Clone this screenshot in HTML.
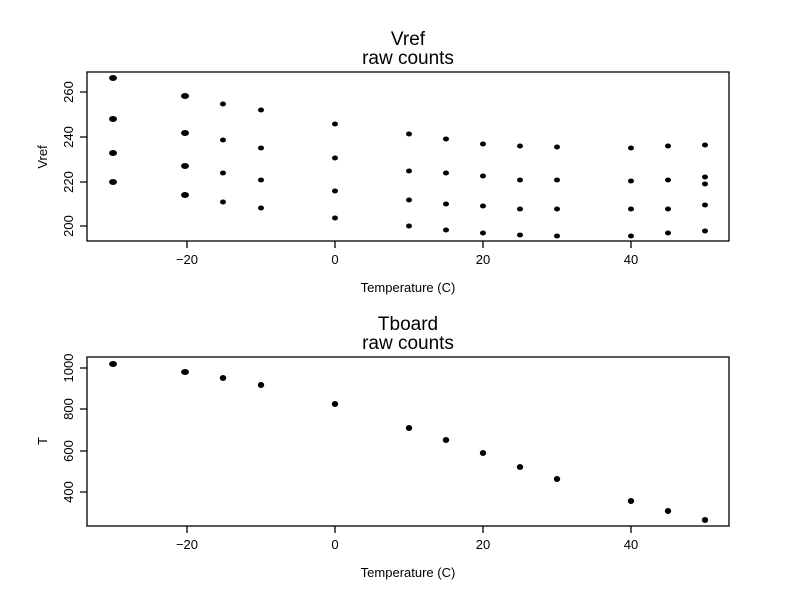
<!DOCTYPE html>
<html><head><style>body{margin:0;background:#fff}svg{display:block}text{font-family:"Liberation Sans",sans-serif;fill:#000}</style></head><body>
<svg width="792" height="612" xmlns="http://www.w3.org/2000/svg">
<g stroke="#000" stroke-width="1.3" fill="none">
<rect x="87" y="72" width="642" height="169"/>
<rect x="87" y="357" width="642" height="169"/>
<path d="M80 92H87M80 137H87M80 182H87M80 226H87M187 241V248M335 241V248M483 241V248M631 241V248"/>
<path d="M80 368H87M80 409H87M80 451H87M80 492H87M187 526V533M335 526V533M483 526V533M631 526V533"/>
</g>
<g font-size="13" text-anchor="middle">
<text x="187" y="264">−20</text><text x="335" y="264">0</text><text x="483" y="264">20</text><text x="631" y="264">40</text>
<text x="187" y="549">−20</text><text x="335" y="549">0</text><text x="483" y="549">20</text><text x="631" y="549">40</text>
<text x="408" y="292">Temperature (C)</text><text x="408" y="577">Temperature (C)</text>
<text transform="translate(73,92) rotate(-90)">260</text><text transform="translate(73,137) rotate(-90)">240</text>
<text transform="translate(73,182) rotate(-90)">220</text><text transform="translate(73,226) rotate(-90)">200</text>
<text transform="translate(47,157) rotate(-90)">Vref</text>
<text transform="translate(73,368) rotate(-90)">1000</text><text transform="translate(73,409) rotate(-90)">800</text>
<text transform="translate(73,451) rotate(-90)">600</text><text transform="translate(73,492) rotate(-90)">400</text>
<text transform="translate(47,441) rotate(-90)">T</text>
</g>
<g font-size="19" text-anchor="middle">
<text x="408" y="45">Vref</text><text x="408" y="64">raw counts</text>
<text x="408" y="330">Tboard</text><text x="408" y="349">raw counts</text>
</g>
<g fill="#000" id="pts"></g>
<script>
(function(){
var g=document.getElementById('pts');
var xs={"-30":113,"-20":185,"-15":223,"-10":261,"0":335,"10":409,"15":446,"20":483,"25":520,"30":557,"40":631,"45":668,"50":705};
var VT={"-30":[78,119,153,182],"-20":[96,133,166,195],"-15":[104,140,173,202],"-10":[110,148,180,208],"0":[124,158,191,218],"10":[134,171,200,226],"15":[139,173,204,230],"20":[144,176,206,233],"25":[146,180,209,235],"30":[147,180,209,236],"40":[148,181,209,236],"45":[146,180,209,233],"50":[145,177,184,205,231]};
var BT={"-30":364,"-20":372,"-15":378,"-10":385,"0":404,"10":428,"15":440,"20":453,"25":467,"30":479,"40":501,"45":511,"50":520};
function e(x,y,rx,ry){var c=document.createElementNS('http://www.w3.org/2000/svg','ellipse');c.setAttribute('cx',x);c.setAttribute('cy',y);c.setAttribute('rx',rx);c.setAttribute('ry',ry);g.appendChild(c);}
var k;
for(k in VT){(function(k){var big=(k=="-30"||k=="-20");VT[k].forEach(function(y){e(xs[k],y,big?4:3,big?3:2.5);});})(k);}
for(k in BT){var big=(k=="-30"||k=="-20");e(xs[k],BT[k],big?4:3.2,3);}
})();
</script>
</svg>
</body></html>
